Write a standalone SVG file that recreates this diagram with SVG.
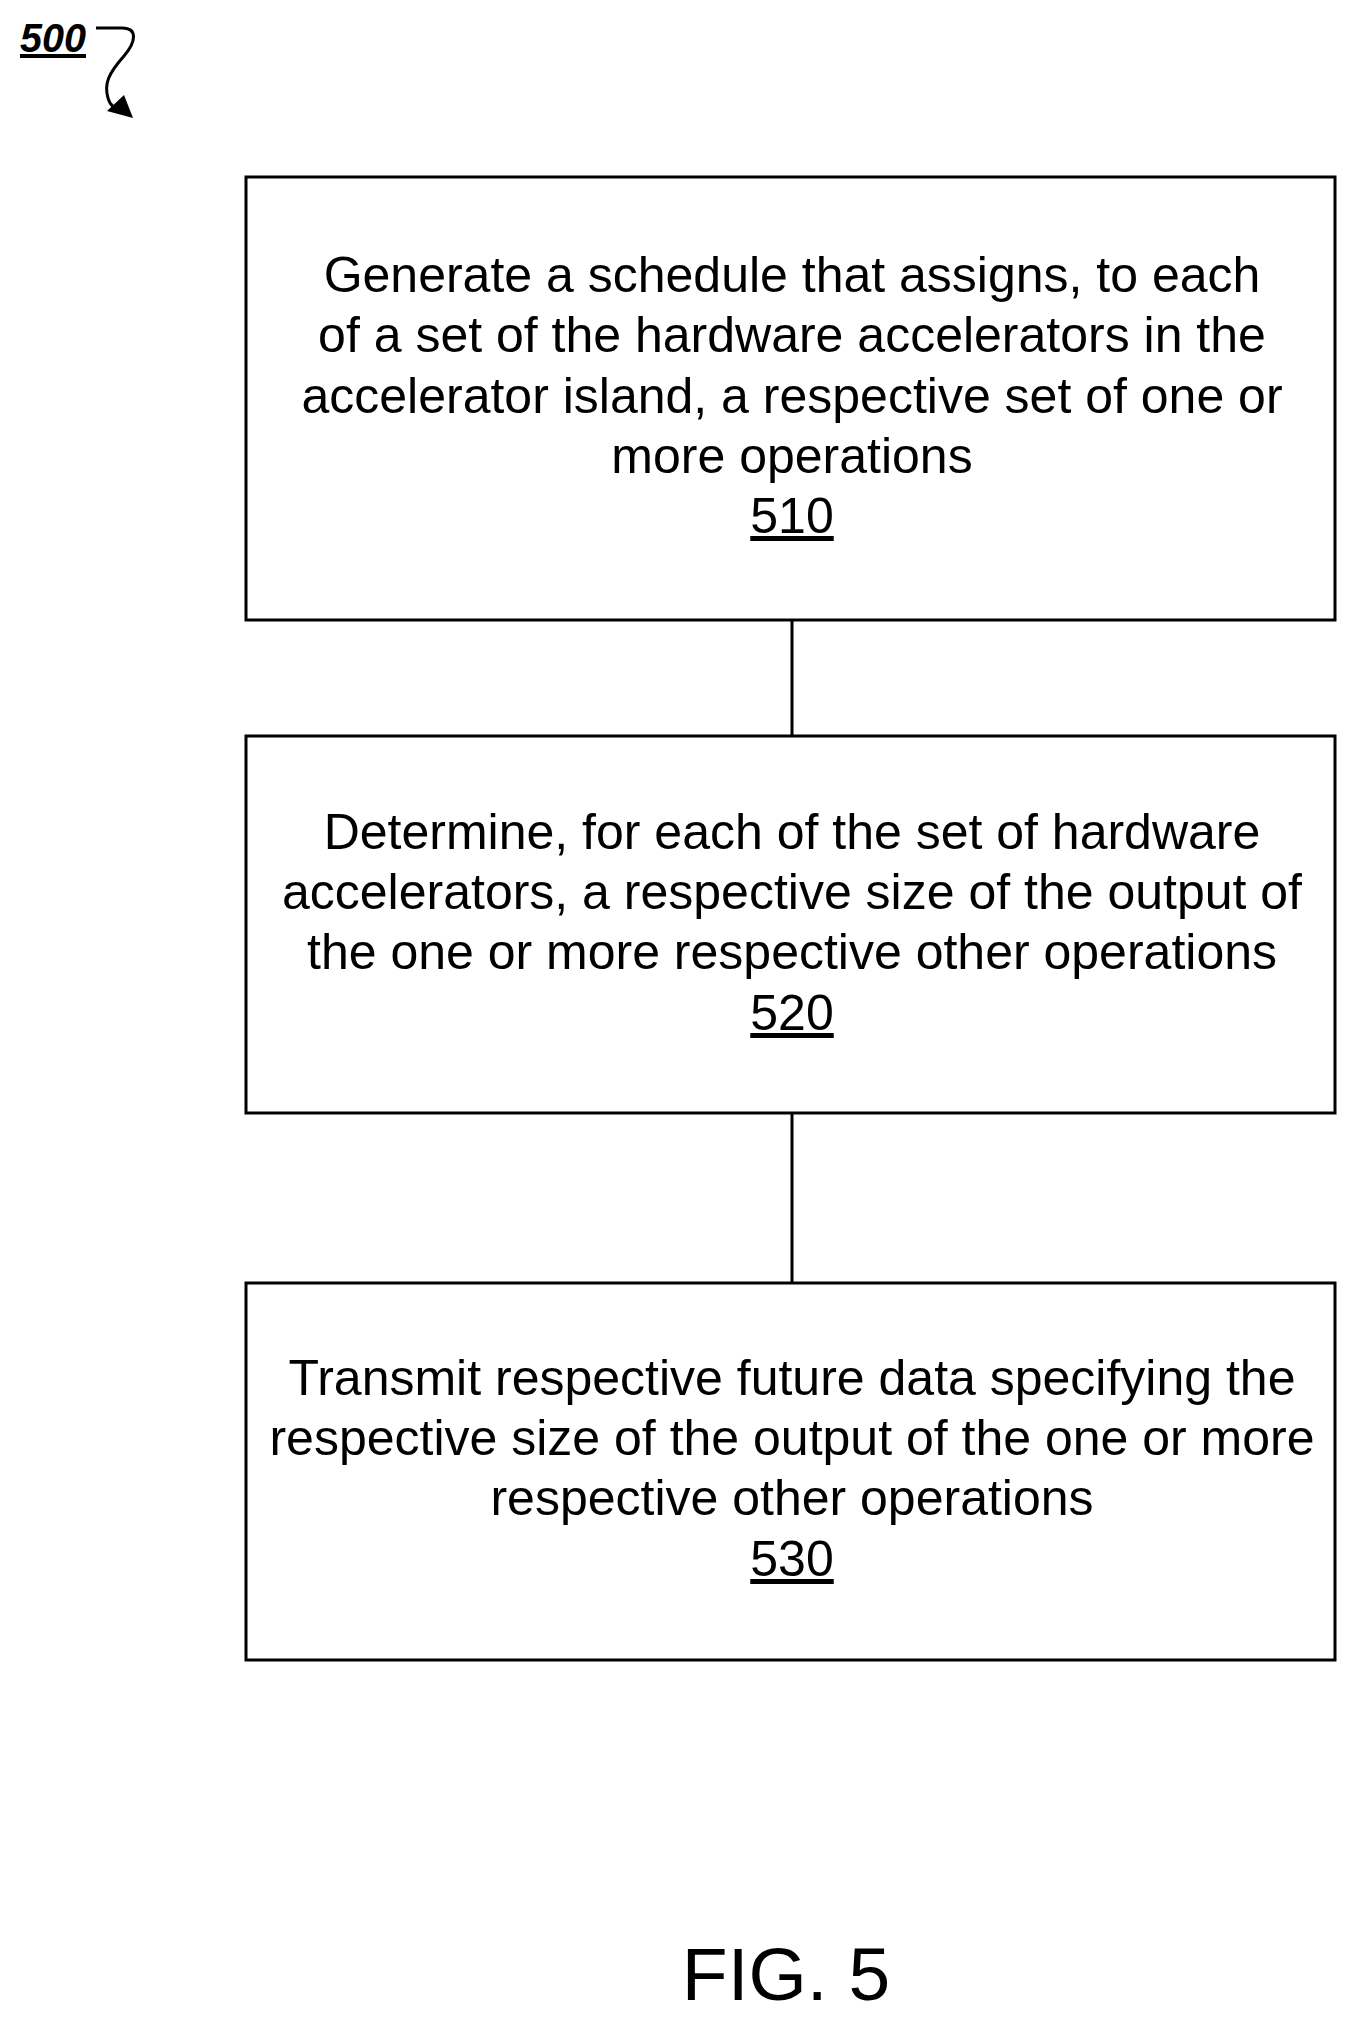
<svg xmlns="http://www.w3.org/2000/svg" width="1356" height="2017" viewBox="0 0 1356 2017">
<style>
.box{fill:#fff;stroke:#000;stroke-width:3}
.t{font-family:"Liberation Sans",Arial,sans-serif;font-size:50px;text-anchor:middle;fill:#000}
.c{stroke:#000;stroke-width:3;fill:none}
</style>
<rect width="1356" height="2017" fill="#fff"/>
<g id="label500">
<text x="20" y="52" font-family="Liberation Sans,Arial,sans-serif" font-size="40" font-weight="bold" font-style="italic" text-decoration="underline" textLength="66" lengthAdjust="spacingAndGlyphs">500</text>
<path class="c" d="M96 28 H122 C138 28 136 42 124 56 C108 74 104 84 108 98 C110 106 116 110 122 110" stroke-width="2"/>
<polygon points="133,118 124,95 107,111" fill="#000"/>
</g>
<g id="connectors">
<line class="c" x1="792" y1="620" x2="792" y2="736"/>
<line class="c" x1="792" y1="1113" x2="792" y2="1283"/>
</g>
<g id="n510">
<rect class="box" x="246" y="177" width="1089" height="443"/>
<text class="t" x="792" y="292">Generate a schedule that assigns, to each</text>
<text class="t" x="792" y="352">of a set of the hardware accelerators in the</text>
<text class="t" x="792" y="413">accelerator island, a respective set of one or</text>
<text class="t" x="792" y="473">more operations</text>
<text class="t" x="792" y="533" text-decoration="underline">510</text>
</g>
<g id="n520">
<rect class="box" x="246" y="736" width="1089" height="377"/>
<text class="t" x="792" y="849">Determine, for each of the set of hardware</text>
<text class="t" x="792" y="909">accelerators, a respective size of the output of</text>
<text class="t" x="792" y="969">the one or more respective other operations</text>
<text class="t" x="792" y="1030" text-decoration="underline">520</text>
</g>
<g id="n530">
<rect class="box" x="246" y="1283" width="1089" height="377"/>
<text class="t" x="792" y="1395">Transmit respective future data specifying the</text>
<text class="t" x="792" y="1455">respective size of the output of the one or more</text>
<text class="t" x="792" y="1515">respective other operations</text>
<text class="t" x="792" y="1576" text-decoration="underline">530</text>
</g>
<text id="fig" x="786" y="2000" font-family="Liberation Sans,Arial,sans-serif" font-size="75" text-anchor="middle">FIG. 5</text>
</svg>
